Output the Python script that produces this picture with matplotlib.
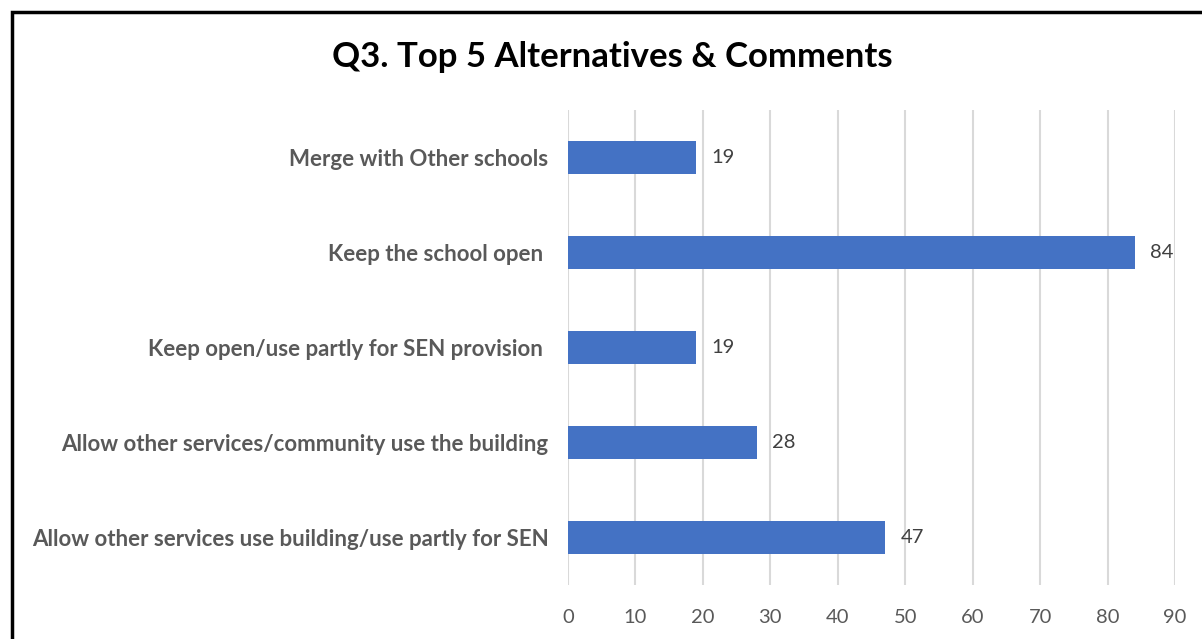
import matplotlib.pyplot as plt
from matplotlib.patches import Rectangle

categories = [
    "Allow other services use building/use partly for SEN",
    "Allow other services/community use the building",
    "Keep open/use partly for SEN provision ",
    "Keep the school open ",
    "Merge with Other schools",
]
values = [47, 28, 19, 84, 19]
xticks = [0, 10, 20, 30, 40, 50, 60, 70, 80, 90]
title = "Q3. Top 5 Alternatives & Comments"

plt.rcParams['font.family'] = ['Lato', 'DejaVu Sans']
grey = '#595959'
blue = '#4472C4'

fig = plt.figure(figsize=(12.02, 6.39), dpi=100)
ax = fig.add_axes([568 / 1202, 1 - 585 / 639, (1175 - 568) / 1202, (585 - 110) / 639])

pos = list(range(len(categories)))
ax.barh(pos, values, height=0.35, color=blue, zorder=3)
for p, v in zip(pos, values):
    ax.text(v + 2.3, p, str(v), va='center', ha='left', fontsize=14.5, color='#404040')

ax.set_xlim(0, 90)
ax.set_ylim(-0.5, len(categories) - 0.5)
ax.set_xticks(xticks)
ax.set_xticklabels([str(t) for t in xticks], fontsize=14.5, color=grey)
ax.set_yticks(pos)
ax.set_yticklabels(categories, fontsize=16, fontweight='bold', color=grey)
ax.tick_params(axis='both', length=0)
ax.tick_params(axis='x', pad=17)
ax.tick_params(axis='y', pad=14)
ax.grid(axis='x', color='#d9d9d9', linewidth=1.5, zorder=0)
for s in ax.spines.values():
    s.set_visible(False)

fig.text(612 / 1202, 1 - 57 / 639, title, ha='center', va='center',
         fontsize=25, fontweight='bold', color='black')

# outer frame
fig.patches.append(Rectangle((12 / 1202, -0.1), 1.2, 1 - 12 / 639 + 0.1,
                             transform=fig.transFigure, fill=False,
                             edgecolor='black', linewidth=2.5))

fig.savefig('out.png', dpi=100)
